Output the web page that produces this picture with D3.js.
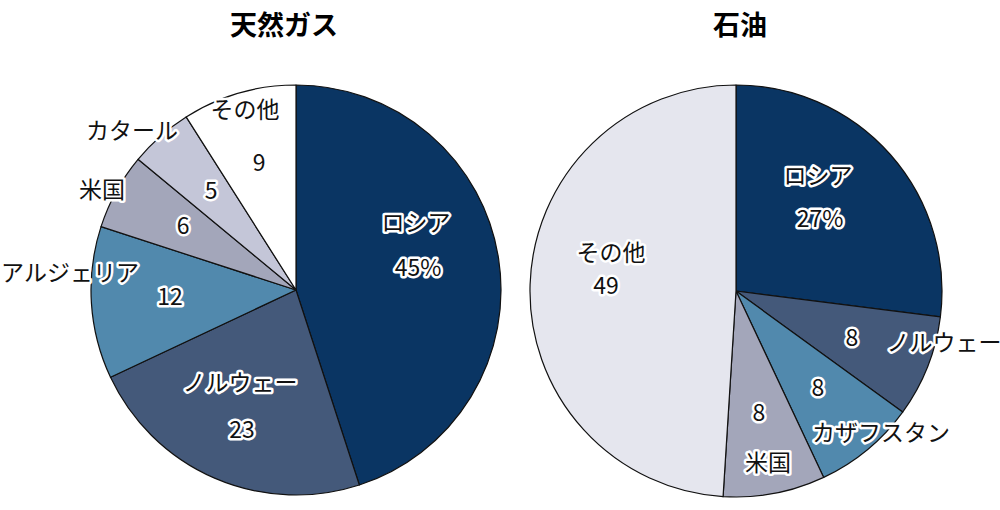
<!DOCTYPE html>
<html>
<head>
<meta charset="utf-8">
<script src="https://cdn.jsdelivr.net/npm/d3@7"></script>
<style>
  body { margin: 0; background: #fff; }
  svg text { font-family: "Noto Sans CJK JP", "Noto Sans", sans-serif; }
</style>
</head>
<body>
<div id="chart"></div>
<script>
// Data
const gasNames = ["ロシア", "ノルウェー", "アルジェリア", "米国", "カタール", "その他"];
const gasValues = [45, 23, 12, 6, 5, 9];
const gasValueLabels = ["45%", "23", "12", "6", "5", "9"];

const oilNames = ["ロシア", "ノルウェー", "カザフスタン", "米国", "その他"];
const oilValues = [27, 8, 8, 8, 49];
const oilValueLabels = ["27%", "8", "8", "8", "49"];

// Colours per slice
const gasColors = ["#0a3563", "#44597a", "#5189ad", "#a3a6ba", "#c4c6d8", "#ffffff"];
const oilColors = ["#0a3563", "#44597a", "#5189ad", "#a3a6ba", "#e5e6ee"];

// Label placement relative to pie centre: [nameDx, nameDy, valueDx, valueDy]
const gasLabelPos = [
  [120, -67, 122, -22],
  [-56, 93, -54, 140],
  [-226, -17, -126, 7],
  [-194, -100, -113, -64],
  [-164, -159, -85, -99],
  [-51, -180, -37, -127]
];
const oilLabelPos = [
  [82, -115, 84, -72],
  [208, 52, 116, 47],
  [145, 142, 82, 97],
  [32, 172, 23, 122],
  [-125, -38, -130, -5]
];

const width = 1000, height = 510;
const svg = d3.select("#chart").append("svg")
  .attr("width", width)
  .attr("height", height);

function drawPie(cfg) {
  const g = svg.append("g")
    .attr("transform", `translate(${cfg.cx}, ${cfg.cy})`);

  const pie = d3.pie().sort(null).value(d => d);
  const arc = d3.arc().innerRadius(0).outerRadius(cfg.r);
  const arcs = pie(cfg.values);

  g.selectAll("path")
    .data(arcs)
    .enter()
    .append("path")
    .attr("d", arc)
    .attr("fill", (d, i) => cfg.colors[i])
    .attr("stroke", "#111")
    .attr("stroke-width", 1.2)
    .attr("stroke-linejoin", "round");

  function label(x, y, txt) {
    g.append("text")
      .attr("x", x)
      .attr("y", y)
      .attr("dy", "0.36em")
      .attr("text-anchor", "middle")
      .attr("font-size", 23)
      .attr("fill", "#111")
      .attr("stroke", "#fff")
      .attr("stroke-width", 5)
      .attr("stroke-linejoin", "round")
      .attr("paint-order", "stroke")
      .text(txt);
  }

  arcs.forEach((d, i) => {
    const p = cfg.labelPos[i];
    label(p[0], p[1], cfg.names[i]);
    label(p[2], p[3], cfg.valueLabels[i]);
  });

  svg.append("text")
    .attr("x", cfg.titleX)
    .attr("y", 35)
    .attr("text-anchor", "middle")
    .attr("font-size", 27)
    .attr("font-weight", "bold")
    .attr("fill", "#000")
    .text(cfg.title);
}

drawPie({
  title: "天然ガス", titleX: 284,
  cx: 296, cy: 290, r: 205,
  values: gasValues, names: gasNames, valueLabels: gasValueLabels,
  colors: gasColors, labelPos: gasLabelPos
});

drawPie({
  title: "石油", titleX: 740,
  cx: 736, cy: 291, r: 206,
  values: oilValues, names: oilNames, valueLabels: oilValueLabels,
  colors: oilColors, labelPos: oilLabelPos
});
</script>
</body>
</html>
